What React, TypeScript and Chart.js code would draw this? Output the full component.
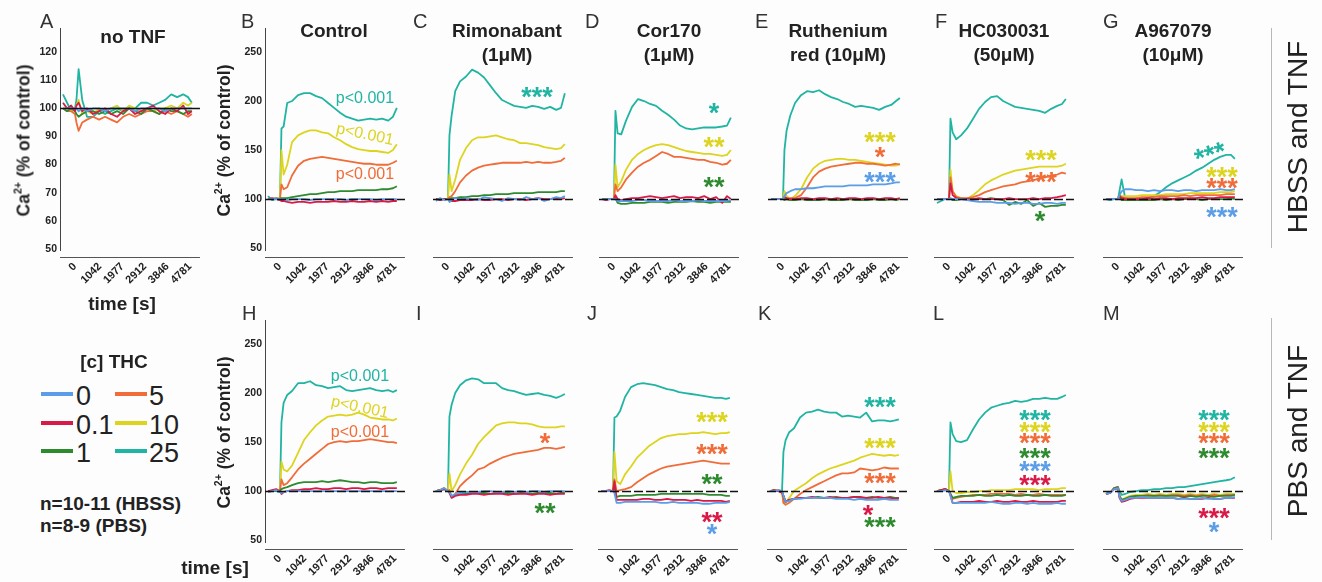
import React, { useEffect, useRef } from "react";
import { Chart, registerables } from "chart.js";

Chart.register(...registerables);

const FONT = '"Liberation Sans", Arial, Helvetica, sans-serif';
Chart.defaults.font.family = FONT;

// ---------- shared axes / categories ----------
const TIME = [-500, -330, -160, 0, 60, 150, 300, 500, 750, 1000, 1250, 1500, 1750, 2000, 2250, 2500, 2750, 3000, 3250, 3500, 3750, 4000, 4250, 4500, 4700, 4860];
const X_TICKS = [0, 1042, 1977, 2912, 3846, 4781];
const X_MIN = -624;
const X_MAX = 5197;
const Y_TICKS_A = [50, 60, 70, 80, 90, 100, 110, 120];
const Y_TICKS = [50, 100, 150, 200, 250];
const CONC = ["0", "0.1", "1", "5", "10", "25"];
const COLORS = ["#5b9de6", "#d91a48", "#2e8a2e", "#f06c38", "#ddd41e", "#20b4a2"];

// ---------- A: no TNF ----------
const A_0 = [100,100,100,100,100,99,100,99,100,100,99,100,100,100,100,99,100,100,100,100,99,100,100,100,100,100];
const A_01 = [102,100,101,99,101,102,99,100,98,99,100,98,97,99,100,98,99,100,101,99,98,100,99,101,98,99];
const A_1 = [100,99,100,99,98,97,98,99,99,98,99,98,99,98,100,99,98,100,99,98,100,99,99,98,99,99];
const A_5 = [100,99,99,98,95,92,95,96,97,96,97,96,95,97,98,97,98,99,99,98,99,98,99,98,97,98];
const A_10 = [100,100,99,100,101,103,98,99,98,100,99,100,101,99,101,100,99,100,99,100,100,101,100,102,101,102];
const A_25 = [105,102,99,100,103,114,103,97,97,99,98,99,100,99,100,100,102,102,101,102,103,105,104,105,104,102];

// ---------- B: Control (HBSS) ----------
const B_0 = [100,100,100,100,100,100,99,100,100,100,99,100,100,100,100,100,99,100,100,100,100,99,100,100,100,100];
const B_01 = [100,101,100,99,98,98,97,96,97,97,96,97,97,97,98,97,97,98,97,97,98,97,98,97,98,98];
const B_1 = [100,100,101,100,101,101,101,102,103,104,105,105,106,107,107,108,108,108,109,109,109,109,110,110,111,113];
const B_5 = [100,100,100,100,115,110,112,124,134,139,141,142,143,142,141,140,139,138,137,136,136,135,135,135,137,139];
const B_10 = [100,100,100,100,150,125,135,158,165,168,170,170,168,167,163,160,156,153,151,150,149,149,148,147,150,156];
const B_25 = [103,99,100,101,172,174,198,200,206,208,208,205,203,198,193,188,184,182,180,181,182,181,182,180,184,193];

// ---------- C: Rimonabant (HBSS) ----------
const C_0 = [98,101,99,100,97,99,101,100,101,100,99,102,101,100,98,101,100,99,102,100,101,98,100,102,101,103];
const C_01 = [100,99,100,100,99,98,98,99,99,99,100,99,99,100,100,99,100,100,99,100,101,100,100,101,100,101];
const C_1 = [100,100,100,100,100,101,101,102,102,103,103,104,104,105,105,105,106,106,106,106,107,107,107,107,108,108];
const C_5 = [100,100,100,100,102,103,108,117,124,129,132,134,135,136,137,137,137,137,138,137,138,137,137,138,139,142];
const C_10 = [100,100,100,100,125,108,120,140,152,160,163,163,164,165,163,161,160,157,157,156,155,153,152,151,152,156];
const C_25 = [100,99,100,100,165,185,210,220,225,232,229,224,216,208,201,198,195,194,193,195,194,192,194,191,193,208];

// ---------- D: Cor170 (HBSS) ----------
const D_0 = [100,100,100,100,100,98,98,98,98,99,99,98,98,98,98,99,98,98,98,99,98,98,98,98,98,99];
const D_01 = [100,99,100,100,104,100,99,100,101,101,102,103,102,101,102,103,101,102,102,101,103,100,102,96,103,100];
const D_1 = [100,100,100,100,101,96,95,95,96,96,96,97,97,97,96,97,97,97,98,97,97,96,97,97,97,97];
const D_5 = [100,100,100,100,115,108,112,120,127,133,137,140,144,148,146,143,143,142,141,140,140,138,137,135,136,140];
const D_10 = [100,100,100,100,135,112,118,130,140,146,150,153,155,156,155,153,151,149,148,147,146,146,145,144,145,150];
const D_25 = [100,100,100,100,190,167,166,180,194,202,200,197,195,190,186,181,175,172,171,172,173,173,173,174,175,183];

// ---------- E: Ruthenium red (HBSS) ----------
const E_0 = [100,100,100,100,103,106,108,110,110,111,111,112,113,113,113,113,114,114,114,114,115,115,115,116,117,117];
const E_01 = [100,100,100,100,102,101,100,100,101,101,100,101,101,100,101,100,101,101,100,101,101,100,101,101,100,101];
const E_1 = [100,100,100,100,99,100,99,99,100,99,99,99,100,99,99,99,100,99,99,99,100,99,99,100,99,100];
const E_5 = [100,100,100,100,102,100,101,101,104,112,122,128,131,133,134,135,136,137,137,136,136,135,134,135,136,135];
const E_10 = [100,100,100,100,108,103,100,103,110,122,131,136,139,140,141,141,140,140,139,138,137,136,135,134,134,136];
const E_25 = [100,100,100,100,150,170,185,198,206,210,209,211,207,204,202,199,197,194,195,194,193,191,194,196,200,203];

// ---------- F: HC030031 (HBSS) ----------
const F_0 = [100,100,100,100,101,100,100,100,99,98,97,97,97,96,96,96,95,96,96,95,95,96,96,95,96,96];
const F_01 = [100,100,100,100,116,104,101,100,100,100,101,100,100,100,100,101,100,100,100,101,100,101,101,102,103,104];
const F_1 = [100,100,100,100,100,99,99,100,100,100,100,100,101,100,99,94,97,95,99,93,96,92,93,93,94,94];
const F_5 = [100,100,100,100,122,108,102,101,101,102,104,107,109,111,113,114,115,117,118,119,121,122,124,125,127,126];
const F_10 = [100,100,100,100,130,108,103,101,100,104,109,115,119,122,125,127,129,130,131,132,133,133,133,133,134,136];
const F_25 = [96,98,100,100,182,168,161,165,172,182,192,199,204,205,200,197,194,193,192,191,190,188,192,195,197,202];

// ---------- G: A967079 (HBSS) ----------
const G_0 = [100,100,100,100,104,108,110,110,109,109,108,109,108,109,109,108,109,109,108,109,109,109,110,109,109,110];
const G_01 = [100,100,100,100,102,101,100,100,100,100,101,100,101,101,100,101,101,101,101,102,101,101,102,102,102,102];
const G_1 = [100,100,100,100,104,99,99,99,99,99,99,99,100,99,100,99,100,100,100,99,100,100,100,100,101,100];
const G_5 = [100,100,100,100,103,102,101,101,101,102,102,102,103,103,103,103,104,103,104,104,104,104,104,105,105,105];
const G_10 = [100,100,100,100,104,103,103,103,103,104,104,104,104,105,105,105,105,106,106,106,106,106,107,107,107,108];
const G_25 = [100,99,100,100,108,120,101,100,99,100,101,103,107,112,116,119,122,125,129,132,136,140,143,145,145,141];

// ---------- H: Control (PBS) ----------
const H_0 = [99,100,101,99,98,99,100,100,100,100,100,100,100,100,100,100,100,100,100,100,100,100,100,100,100,100];
const H_01 = [100,101,102,100,97,99,100,101,101,102,102,103,102,102,103,103,102,103,103,102,103,103,102,103,103,103];
const H_1 = [100,100,100,100,102,103,104,106,108,109,109,109,110,109,110,111,110,109,109,108,109,109,108,108,108,109];
const H_5 = [100,100,100,100,112,106,108,114,122,128,133,138,143,148,150,151,150,151,151,152,153,152,151,150,150,149];
const H_10 = [100,100,100,100,130,122,120,126,139,152,160,167,172,176,177,178,177,178,180,178,175,174,173,173,172,174];
const H_25 = [100,100,100,99,170,190,198,202,210,210,212,208,207,205,206,207,203,202,203,204,205,203,202,203,201,203];

// ---------- I: Rimonabant (PBS) ----------
const I_0 = [100,101,103,100,99,95,97,98,99,99,99,100,100,99,99,100,99,100,99,100,100,99,100,100,100,100];
const I_01 = [100,101,102,100,98,93,95,96,96,97,97,96,97,97,97,96,97,97,97,96,97,97,96,97,97,97];
const I_1 = [100,101,102,100,99,94,96,97,97,98,98,98,97,98,98,98,97,98,98,97,98,98,98,97,98,98];
const I_5 = [100,101,103,100,101,94,97,105,111,116,122,124,128,131,134,136,138,139,140,141,142,144,144,143,144,145];
const I_10 = [100,101,103,100,118,100,106,117,128,137,148,155,161,167,169,170,170,169,169,168,166,165,165,165,166,166];
const I_25 = [100,101,102,100,176,188,200,208,213,215,214,210,210,210,205,203,202,200,198,199,200,198,197,195,197,199];

// ---------- J: Cor170 (PBS) ----------
const J_0 = [100,100,100,100,98,88,88,89,89,89,89,89,89,88,88,89,88,88,88,88,87,87,88,88,88,89];
const J_01 = [100,100,101,100,110,91,91,91,91,91,92,92,91,91,92,91,91,91,90,91,90,90,90,90,89,90];
const J_1 = [100,100,100,100,105,94,95,95,95,96,96,96,96,97,97,97,97,97,97,97,97,96,96,96,95,95];
const J_5 = [100,100,100,100,112,100,101,102,104,109,113,117,120,123,125,126,127,128,129,130,131,130,129,128,128,128];
const J_10 = [100,100,100,100,140,110,107,117,125,134,140,146,150,154,156,157,158,158,159,159,160,159,158,159,159,160];
const J_25 = [100,100,100,100,175,176,182,196,206,209,210,209,208,206,204,203,201,200,199,198,197,196,195,195,194,195];

// ---------- K: Ruthenium red (PBS) ----------
const K_0 = [100,100,101,100,95,89,90,92,92,93,93,93,93,93,92,92,92,91,92,91,91,91,92,91,91,91];
const K_01 = [100,101,100,98,95,89,91,92,93,93,94,93,93,94,93,93,93,94,94,93,93,94,93,93,92,93];
const K_1 = [100,101,100,100,95,89,91,92,93,93,93,94,93,93,94,93,93,94,93,93,94,93,93,94,93,93];
const K_5 = [100,100,101,100,88,86,88,92,97,101,104,107,110,113,116,118,118,119,123,122,121,122,124,123,123,123];
const K_10 = [100,100,101,100,88,88,93,100,104,108,113,117,120,123,125,127,129,131,134,136,138,137,136,137,136,137];
const K_25 = [100,100,100,99,140,152,160,164,175,180,181,183,181,180,180,176,177,176,175,180,171,172,172,171,172,173];

// ---------- L: HC030031 (PBS) ----------
const L_0 = [100,100,101,100,95,88,88,88,88,88,88,88,89,88,87,87,88,88,87,88,87,87,87,88,87,87];
const L_01 = [100,101,102,100,96,88,88,89,89,89,90,89,89,90,89,89,90,89,89,90,89,89,89,89,90,90];
const L_1 = [100,101,102,100,97,93,94,95,95,95,96,95,95,96,95,96,95,95,96,95,95,96,95,95,95,96];
const L_5 = [100,101,102,100,97,92,93,94,95,96,96,96,97,97,97,97,96,97,96,96,97,96,96,96,96,96];
const L_10 = [100,101,102,100,120,100,98,98,99,99,100,100,101,101,101,101,102,102,102,102,101,102,102,102,103,103];
const L_25 = [100,100,101,100,170,158,151,150,152,163,173,180,185,187,189,190,192,191,192,194,194,195,194,194,196,198];

// ---------- M: A967079 (PBS) ----------
const M_0 = [97,98,102,103,94,90,91,93,93,94,93,93,93,93,93,92,92,92,92,93,92,92,92,93,93,94];
const M_01 = [97,98,102,103,93,89,90,92,93,93,93,93,93,93,93,92,93,92,92,92,93,92,92,93,93,93];
const M_1 = [97,98,103,104,95,91,92,94,95,95,95,95,95,95,95,95,94,95,94,95,95,94,95,95,95,96];
const M_5 = [97,98,103,104,95,91,92,94,95,95,96,95,96,95,96,96,95,96,95,96,95,96,95,96,96,96];
const M_10 = [97,98,103,104,96,91,93,95,96,96,97,96,97,96,97,97,96,97,96,97,96,97,96,97,97,97];
const M_25 = [97,98,103,104,100,96,97,99,100,101,101,102,102,103,103,104,104,105,106,107,108,109,110,111,112,114];

// ---------- significance annotations (time, value, text, series index) ----------
type Note = { t: number; v: number; text: string; c: number; rot?: number; size?: number };
const B_NOTES: Note[] = [
  { t: 3534, v: 202.6, text: "p<0.001", c: 5, size: 16 },
  { t: 3534, v: 165.8, text: "p<0.001", c: 4, size: 16, rot: 12 },
  { t: 3534, v: 125, text: "p<0.001", c: 3, size: 16 },
];
const C_NOTES: Note[] = [{ t: 3700, v: 208.7, text: "***", c: 5 }];
const D_NOTES: Note[] = [
  { t: 4158, v: 192.4, text: "*", c: 5 },
  { t: 4158, v: 157.7, text: "**", c: 4 },
  { t: 4158, v: 116.9, text: "**", c: 2 },
];
const E_NOTES: Note[] = [
  { t: 4033, v: 162.8, text: "***", c: 4 },
  { t: 4033, v: 147.5, text: "*", c: 3 },
  { t: 4033, v: 122, text: "***", c: 0 },
];
const F_NOTES: Note[] = [
  { t: 3825, v: 144.4, text: "***", c: 4 },
  { t: 3825, v: 122, text: "***", c: 3 },
  { t: 3784, v: 82.2, text: "*", c: 2 },
];
const G_NOTES: Note[] = [
  { t: 3784, v: 149.5, text: "***", c: 5, rot: -18 },
  { t: 4324, v: 127, text: "***", c: 4 },
  { t: 4324, v: 115.8, text: "***", c: 3 },
  { t: 4324, v: 86.2, text: "***", c: 0 },
];
const H_NOTES: Note[] = [
  { t: 3326, v: 216.9, text: "p<0.001", c: 5, size: 16 },
  { t: 3326, v: 185.2, text: "p<0.001", c: 4, size: 16, rot: 12 },
  { t: 3326, v: 159.7, text: "p<0.001", c: 3, size: 16 },
];
const I_NOTES: Note[] = [
  { t: 4033, v: 153.6, text: "*", c: 3 },
  { t: 4033, v: 82.2, text: "**", c: 2 },
];
const J_NOTES: Note[] = [
  { t: 4116, v: 175, text: "***", c: 4 },
  { t: 4116, v: 142.4, text: "***", c: 3 },
  { t: 4116, v: 111.8, text: "**", c: 2 },
  { t: 4116, v: 73, text: "**", c: 1 },
  { t: 4116, v: 60.7, text: "*", c: 0 },
];
const K_NOTES: Note[] = [
  { t: 4075, v: 190.3, text: "***", c: 5 },
  { t: 4075, v: 148.5, text: "***", c: 4 },
  { t: 4075, v: 112.8, text: "***", c: 3 },
  { t: 3576, v: 80.1, text: "*", c: 1 },
  { t: 4075, v: 67.9, text: "***", c: 2 },
];
const L_NOTES: Note[] = [
  { t: 3576, v: 177.1, text: "***", c: 5 },
  { t: 3576, v: 165.2, text: "***", c: 4 },
  { t: 3576, v: 153.4, text: "***", c: 3 },
  { t: 3576, v: 138.1, text: "***", c: 2 },
  { t: 3576, v: 125.5, text: "***", c: 0 },
  { t: 3576, v: 110.9, text: "***", c: 1 },
];
const M_NOTES: Note[] = [
  { t: 3992, v: 177.1, text: "***", c: 5 },
  { t: 3992, v: 165.2, text: "***", c: 4 },
  { t: 3992, v: 153.4, text: "***", c: 3 },
  { t: 3992, v: 138.1, text: "***", c: 2 },
  { t: 3992, v: 77, text: "***", c: 1 },
  { t: 3992, v: 62.8, text: "*", c: 0 },
];

// ---------- layout ----------
const AREA_W = 140;
const AREA_H = 222;
const PAD_L = 45;
const PAD_R = 10;
const PAD_T = 10;
const XAX_H = 55;
const CW = PAD_L + AREA_W + PAD_R;
const CH = PAD_T + AREA_H + XAX_H;
const TOP1 = 28;
const TOP2 = 320;

interface PanelDef {
  key: string;
  left: number;
  top: number;
  yMin: number;
  yMax: number;
  yTicks: number[] | null;
  solidRef: boolean;
  series: number[][];
  notes: Note[];
}

const PANELS: PanelDef[] = [
  { key: "A", left: 60, top: TOP1, yMin: 49.6, yMax: 128.6, yTicks: Y_TICKS_A, solidRef: true, series: [A_0, A_01, A_1, A_5, A_10, A_25], notes: [] },
  { key: "B", left: 265, top: TOP1, yMin: 48, yMax: 274.5, yTicks: Y_TICKS, solidRef: false, series: [B_0, B_01, B_1, B_5, B_10, B_25], notes: B_NOTES },
  { key: "C", left: 433, top: TOP1, yMin: 48, yMax: 274.5, yTicks: null, solidRef: false, series: [C_0, C_01, C_1, C_5, C_10, C_25], notes: C_NOTES },
  { key: "D", left: 599, top: TOP1, yMin: 48, yMax: 274.5, yTicks: null, solidRef: false, series: [D_0, D_01, D_1, D_5, D_10, D_25], notes: D_NOTES },
  { key: "E", left: 768, top: TOP1, yMin: 48, yMax: 274.5, yTicks: null, solidRef: false, series: [E_0, E_01, E_1, E_5, E_10, E_25], notes: E_NOTES },
  { key: "F", left: 934, top: TOP1, yMin: 48, yMax: 274.5, yTicks: null, solidRef: false, series: [F_0, F_01, F_1, F_5, F_10, F_25], notes: F_NOTES },
  { key: "G", left: 1103, top: TOP1, yMin: 48, yMax: 274.5, yTicks: null, solidRef: false, series: [G_0, G_01, G_1, G_5, G_10, G_25], notes: G_NOTES },
  { key: "H", left: 265, top: TOP2, yMin: 48, yMax: 274.5, yTicks: Y_TICKS, solidRef: false, series: [H_0, H_01, H_1, H_5, H_10, H_25], notes: H_NOTES },
  { key: "I", left: 433, top: TOP2, yMin: 48, yMax: 274.5, yTicks: null, solidRef: false, series: [I_0, I_01, I_1, I_5, I_10, I_25], notes: I_NOTES },
  { key: "J", left: 598, top: TOP2, yMin: 48, yMax: 274.5, yTicks: null, solidRef: false, series: [J_0, J_01, J_1, J_5, J_10, J_25], notes: J_NOTES },
  { key: "K", left: 767, top: TOP2, yMin: 48, yMax: 274.5, yTicks: null, solidRef: false, series: [K_0, K_01, K_1, K_5, K_10, K_25], notes: K_NOTES },
  { key: "L", left: 934, top: TOP2, yMin: 48, yMax: 274.5, yTicks: null, solidRef: false, series: [L_0, L_01, L_1, L_5, L_10, L_25], notes: L_NOTES },
  { key: "M", left: 1103, top: TOP2, yMin: 48, yMax: 274.5, yTicks: null, solidRef: false, series: [M_0, M_01, M_1, M_5, M_10, M_25], notes: M_NOTES },
];

function makeDeco(p: PanelDef) {
  return {
    id: "deco" + p.key,
    afterDatasetsDraw(chart: any) {
      const { ctx, chartArea: a, scales } = chart;
      const x = scales.x;
      const y = scales.y;
      ctx.save();
      // baseline at 100 %
      const y100 = Math.round(y.getPixelForValue(100)) + 0.5;
      ctx.strokeStyle = "#111";
      ctx.lineWidth = p.solidRef ? 1.6 : 1.3;
      ctx.setLineDash(p.solidRef ? [] : [9, 3]);
      ctx.beginPath();
      ctx.moveTo(a.left, y100);
      ctx.lineTo(a.right, y100);
      ctx.stroke();
      ctx.setLineDash([]);
      // offset x axis line
      ctx.strokeStyle = "#555";
      ctx.lineWidth = 1;
      const yb = Math.round(a.bottom + 7) + 0.5;
      ctx.beginPath();
      ctx.moveTo(a.left, yb);
      ctx.lineTo(a.right, yb);
      ctx.stroke();
      // annotations
      for (const n of p.notes) {
        const isStar = n.text.indexOf("*") >= 0;
        const size = n.size ?? 27;
        ctx.save();
        ctx.font = `${isStar ? "bold " : ""}${size}px ${FONT}`;
        ctx.fillStyle = COLORS[n.c];
        ctx.textAlign = "center";
        ctx.textBaseline = "alphabetic";
        ctx.translate(x.getPixelForValue(n.t), y.getPixelForValue(n.v));
        if (n.rot) ctx.rotate((n.rot * Math.PI) / 180);
        const m = ctx.measureText(n.text);
        ctx.fillText(n.text, 0, (m.actualBoundingBoxAscent - m.actualBoundingBoxDescent) / 2);
        ctx.restore();
      }
      ctx.restore();
    },
  };
}

function Panel({ p }: { p: PanelDef }) {
  const ref = useRef<HTMLCanvasElement>(null);
  useEffect(() => {
    if (!ref.current) return;
    const hasY = !!p.yTicks;
    const chart = new Chart(ref.current, {
      type: "line",
      data: {
        datasets: p.series.map((s, i) => ({
          label: CONC[i],
          data: TIME.map((t, k) => ({ x: t, y: s[k] })),
          borderColor: COLORS[i],
          backgroundColor: COLORS[i],
          borderWidth: 1.8,
          pointRadius: 0,
          tension: 0,
          fill: false,
          borderJoinStyle: "round",
        })),
      },
      options: {
        responsive: false,
        animation: false,
        events: [],
        layout: { padding: { left: 0, right: PAD_R, top: PAD_T, bottom: 0 } },
        plugins: { legend: { display: false }, tooltip: { enabled: false } },
        scales: {
          x: {
            type: "linear",
            min: X_MIN,
            max: X_MAX,
            grid: { display: false, drawTicks: false },
            border: { display: false },
            afterBuildTicks: (ax: any) => {
              ax.ticks = X_TICKS.map((v) => ({ value: v }));
            },
            afterFit: (ax: any) => {
              ax.height = XAX_H;
            },
            ticks: {
              autoSkip: false,
              minRotation: 45,
              maxRotation: 45,
              padding: 10,
              color: "#222",
              font: { size: 11, weight: "bold" },
              callback: (v: any) => String(v),
            },
          },
          y: {
            display: hasY,
            min: p.yMin,
            max: p.yMax,
            grid: { display: false, drawTicks: false },
            border: { display: true, color: "#444", width: 1 },
            afterBuildTicks: (ax: any) => {
              if (p.yTicks) ax.ticks = p.yTicks.map((v) => ({ value: v }));
            },
            afterFit: (ax: any) => {
              ax.width = PAD_L;
            },
            ticks: {
              padding: 3,
              color: "#222",
              font: { size: 10.5, weight: "bold" },
              callback: (v: any) => String(v),
            },
          },
        },
      } as any,
      plugins: [makeDeco(p)],
    } as any);
    return () => chart.destroy();
  }, []);
  return (
    <canvas
      ref={ref}
      width={CW}
      height={CH}
      style={{ position: "absolute", left: p.left - PAD_L, top: p.top - PAD_T, width: CW, height: CH }}
    />
  );
}

// ---------- text helpers ----------
function Txt(props: { x: number; base: number; size: number; bold?: boolean; align?: string; color?: string; children: any }) {
  const { x, base, size, bold, align, color, children } = props;
  const lh = Math.round(size * 1.3);
  const style: any = {
    position: "absolute",
    top: base - lh / 2 - 0.3465 * size,
    fontSize: size,
    lineHeight: lh + "px",
    fontWeight: bold ? "bold" : "normal",
    color: color || "#222",
    whiteSpace: "nowrap",
    fontFamily: FONT,
  };
  if (align === "center") {
    style.left = x - 200;
    style.width = 400;
    style.textAlign = "center";
  } else {
    style.left = x;
  }
  return <div style={style}>{children}</div>;
}

function VTxt(props: { baseX: number; cy: number; size: number; bold?: boolean; color?: string; children: any }) {
  const { baseX, cy, size, bold, color, children } = props;
  const lh = Math.round(size * 1.3);
  const cx = baseX - 0.3465 * size;
  return (
    <div
      style={{
        position: "absolute",
        left: cx - 200,
        top: cy - lh / 2,
        width: 400,
        height: lh,
        lineHeight: lh + "px",
        textAlign: "center",
        fontSize: size,
        fontWeight: bold ? "bold" : "normal",
        color: color || "#222",
        fontFamily: FONT,
        whiteSpace: "nowrap",
        transform: "rotate(-90deg)",
        transformOrigin: "50% 50%",
      }}
    >
      {children}
    </div>
  );
}

const LETTERS: [string, number, number][] = [
  ["A", 40, 28], ["B", 241, 28], ["C", 413, 28], ["D", 585, 28], ["E", 755, 28], ["F", 935, 28], ["G", 1103, 28],
  ["H", 242, 320], ["I", 416, 320], ["J", 587, 320], ["K", 758, 320], ["L", 933, 320], ["M", 1103, 320],
];

const TITLES: [string, string, number][] = [
  ["Control", "", 334],
  ["Rimonabant", "(1μM)", 507],
  ["Cor170", "(1μM)", 669],
  ["Ruthenium", "red (10μM)", 838],
  ["HC030031", "(50μM)", 1004],
  ["A967079", "(10μM)", 1173],
];

const LEGEND_ROWS: [number, number][] = [[0, 3], [1, 4], [2, 5]];

function YTitle({ baseX, cy }: { baseX: number; cy: number }) {
  return (
    <VTxt baseX={baseX} cy={cy} size={17.5} bold>
      Ca<sup style={{ fontSize: "0.6em", lineHeight: 0, verticalAlign: "0.75em" }}>2+</sup> (% of control)
    </VTxt>
  );
}

export default function App() {
  return (
    <div
      style={{
        position: "fixed",
        left: 0,
        top: 0,
        width: 1322,
        height: 582,
        background: "#fdfdfd",
        overflow: "hidden",
        fontFamily: FONT,
      }}
    >
      {PANELS.map((p) => (
        <Panel key={p.key} p={p} />
      ))}

      {LETTERS.map(([l, x, b]) => (
        <Txt key={l} x={x} base={b} size={20} color="#333">
          {l}
        </Txt>
      ))}

      <Txt x={133} base={43} size={19} bold align="center">no TNF</Txt>
      {TITLES.map(([l1, l2, cx]) => (
        <React.Fragment key={l1}>
          <Txt x={cx} base={37} size={19} bold align="center">{l1}</Txt>
          {l2 ? <Txt x={cx} base={61} size={19} bold align="center">{l2}</Txt> : null}
        </React.Fragment>
      ))}

      <YTitle baseX={30} cy={140} />
      <YTitle baseX={230} cy={140} />
      <YTitle baseX={230} cy={432} />

      <Txt x={122} base={310} size={19} bold align="center">time [s]</Txt>
      <Txt x={215} base={574} size={19} bold align="center">time [s]</Txt>

      <Txt x={114} base={368} size={19} bold align="center">[c] THC</Txt>
      {LEGEND_ROWS.map(([a, b], r) => {
        const base = 406 + r * 28.5;
        return (
          <React.Fragment key={r}>
            <div style={{ position: "absolute", left: 41, top: base - 14, width: 32, height: 4, background: COLORS[a] }} />
            <Txt x={76} base={base} size={27}>{CONC[a]}</Txt>
            <div style={{ position: "absolute", left: 115, top: base - 14, width: 32, height: 4, background: COLORS[b] }} />
            <Txt x={149} base={base} size={27}>{CONC[b]}</Txt>
          </React.Fragment>
        );
      })}

      <Txt x={40} base={510} size={19} bold>n=10-11 (HBSS)</Txt>
      <Txt x={40} base={532} size={19} bold>n=8-9 (PBS)</Txt>

      <div style={{ position: "absolute", left: 1271, top: 28, width: 1, height: 220, background: "#b8b8b8" }} />
      <div style={{ position: "absolute", left: 1271, top: 318, width: 1, height: 222, background: "#b8b8b8" }} />
      <VTxt baseX={1308} cy={137} size={28}>HBSS and TNF</VTxt>
      <VTxt baseX={1308} cy={431} size={28}>PBS and TNF</VTxt>
    </div>
  );
}
